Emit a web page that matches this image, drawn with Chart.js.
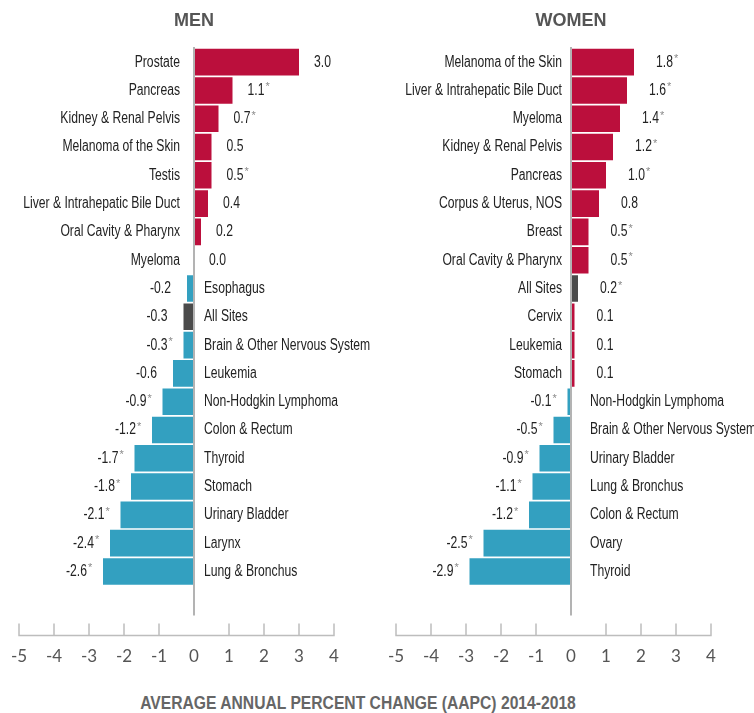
<!DOCTYPE html>
<html>
<head>
<meta charset="utf-8">
<script src="https://cdn.jsdelivr.net/npm/chart.js@4"></script>
<style>
  body { margin: 0; background: #fff; }
  #wrap { position: relative; width: 754px; height: 713px; overflow: hidden; }
  #menChart { position: absolute; left: 0; top: 0; }
  #womenChart { position: absolute; left: 377px; top: 0; }
  #xTitle {
    position: absolute; left: 0; width: 716px; top: 693px;
    text-align: center; color: #666; line-height: 20px;
    font: bold 18px "Liberation Sans", Arial, sans-serif;
    transform: scaleX(0.87); transform-origin: 358px 0;
  }
</style>
</head>
<body>
<div id="wrap">
  <canvas id="menChart" width="377" height="690"></canvas>
  <canvas id="womenChart" width="377" height="690"></canvas>
  <div id="xTitle">AVERAGE ANNUAL PERCENT CHANGE (AAPC) 2014-2018</div>
</div>
<script>
// men
const menLabels = ['Prostate', 'Pancreas', 'Kidney & Renal Pelvis', 'Melanoma of the Skin', 'Testis',
  'Liver & Intrahepatic Bile Duct', 'Oral Cavity & Pharynx', 'Myeloma', 'Esophagus', 'All Sites',
  'Brain & Other Nervous System', 'Leukemia', 'Non-Hodgkin Lymphoma', 'Colon & Rectum', 'Thyroid',
  'Stomach', 'Urinary Bladder', 'Larynx', 'Lung & Bronchus'];
const menValues = [3.0, 1.1, 0.7, 0.5, 0.5, 0.4, 0.2, 0.0, -0.2, -0.3, -0.3, -0.6, -0.9, -1.2, -1.7, -1.8, -2.1, -2.4, -2.6];
const menStars = [false, true, true, false, true, false, false, false, false, false, true, false, true, true, true, true, true, true, true];

// women
const womenLabels = ['Melanoma of the Skin', 'Liver & Intrahepatic Bile Duct', 'Myeloma', 'Kidney & Renal Pelvis',
  'Pancreas', 'Corpus & Uterus, NOS', 'Breast', 'Oral Cavity & Pharynx', 'All Sites', 'Cervix', 'Leukemia',
  'Stomach', 'Non-Hodgkin Lymphoma', 'Brain & Other Nervous System', 'Urinary Bladder', 'Lung & Bronchus',
  'Colon & Rectum', 'Ovary', 'Thyroid'];
const womenValues = [1.8, 1.6, 1.4, 1.2, 1.0, 0.8, 0.5, 0.5, 0.2, 0.1, 0.1, 0.1, -0.1, -0.5, -0.9, -1.1, -1.2, -2.5, -2.9];
const womenStars = [true, true, true, true, true, false, true, true, true, false, false, false, true, true, true, true, true, true, true];

const xMin = -5;
const xMax = 4;

const RED = '#bb0f3c';
const BLUE = '#33a0c0';
const GREY = '#4b4b4b';
const LABEL_FONT = '16px "Liberation Sans", Arial, sans-serif';
const STAR_FONT = '11px "Liberation Sans", Arial, sans-serif';
const SX = 0.76; // squeeze text to look like the condensed face

function barColors(labels, values) {
  return labels.map(function(l, i) {
    if (l === 'All Sites') return GREY;
    return values[i] >= 0 ? RED : BLUE;
  });
}

// draws horizontally condensed text, returns drawn width
function narrowText(ctx, text, x, y, align) {
  const w = ctx.measureText(text).width * SX;
  const left = align === 'right' ? x - w : x;
  ctx.save();
  ctx.translate(left, y);
  ctx.scale(SX, 1);
  ctx.textAlign = 'left';
  ctx.fillText(text, 0, 0);
  ctx.restore();
  return w;
}

// number + small grey asterisk
function drawValue(ctx, v, star, x, y, align) {
  const txt = v.toFixed(1);
  ctx.font = LABEL_FONT;
  ctx.fillStyle = '#222';
  const w = ctx.measureText(txt).width * SX;
  const left = align === 'left' ? x : x - w;
  narrowText(ctx, txt, left, y, 'left');
  if (star) {
    ctx.font = STAR_FONT;
    ctx.fillStyle = '#8a8a8a';
    ctx.textAlign = 'left';
    ctx.fillText('*', left + w + 1, y - 3);
  }
}

const labelPlugin = {
  id: 'aapcLabels',
  afterDatasetsDraw(chart, args, opts) {
    const ctx = chart.ctx;
    const x = chart.scales.x;
    const area = chart.chartArea;
    const zero = x.getPixelForValue(0);
    const ds = chart.data.datasets[0];
    const meta = chart.getDatasetMeta(0);
    ctx.save();

    // zero line
    ctx.strokeStyle = '#b3b3b3';
    ctx.lineWidth = 2;
    ctx.beginPath();
    ctx.moveTo(zero, area.top - 1);
    ctx.lineTo(zero, area.bottom + 30);
    ctx.stroke();

    // bottom axis with upward ticks
    const axisY = area.bottom + 50;
    ctx.strokeStyle = '#bdbdbd';
    ctx.lineWidth = 1.5;
    ctx.beginPath();
    ctx.moveTo(x.getPixelForValue(xMin), axisY);
    ctx.lineTo(x.getPixelForValue(xMax), axisY);
    x.ticks.forEach(function(t) {
      if (t.value === 0) return;
      const px = x.getPixelForValue(t.value);
      ctx.moveTo(px, axisY + 0.75);
      ctx.lineTo(px, axisY - 12);
    });
    ctx.stroke();

    // category + value labels
    ctx.textBaseline = 'middle';
    meta.data.forEach(function(bar, i) {
      const v = ds.data[i];
      const y = bar.y;
      ctx.font = LABEL_FONT;
      ctx.fillStyle = '#222';
      if (v >= 0) {
        narrowText(ctx, chart.data.labels[i], zero - opts.catPos, y, 'right');
        drawValue(ctx, v, ds.stars[i], bar.x + opts.valPos, y, 'left');
      } else {
        ctx.font = LABEL_FONT;
        ctx.fillStyle = '#222';
        narrowText(ctx, chart.data.labels[i], zero + opts.catNeg, y, 'left');
        drawValue(ctx, v, ds.stars[i], bar.x - opts.valNeg, y, 'right');
      }
    });

    // panel title
    ctx.font = 'bold 18px "Liberation Sans", Arial, sans-serif';
    ctx.fillStyle = '#555';
    ctx.textAlign = 'center';
    ctx.fillText(opts.title, zero, 21);
    ctx.restore();
  }
};

function makeChart(id, title, labels, values, stars, gaps) {
  const ctx = document.getElementById(id).getContext('2d');
  return new Chart(ctx, {
    type: 'bar',
    data: {
      labels: labels,
      datasets: [{
        data: values,
        stars: stars,
        backgroundColor: barColors(labels, values),
        borderWidth: 0,
        barPercentage: 0.94,
        categoryPercentage: 1.0
      }]
    },
    options: {
      indexAxis: 'y',
      responsive: false,
      animation: false,
      devicePixelRatio: 1,
      layout: { padding: { top: 48, left: 19, right: 43, bottom: 20 } },
      scales: {
        x: {
          min: xMin,
          max: xMax,
          grid: { display: true, drawOnChartArea: false, drawTicks: true, tickLength: 58, color: 'rgba(0,0,0,0)' },
          border: { display: false },
          ticks: {
            stepSize: 1,
            padding: 3,
            color: '#555',
            font: { family: 'Lato, "Open Sans", sans-serif', size: 17 }
          }
        },
        y: { display: false }
      },
      plugins: {
        legend: { display: false },
        tooltip: { enabled: false },
        aapcLabels: Object.assign({ title: title }, gaps)
      }
    },
    plugins: [labelPlugin]
  });
}

makeChart('menChart', 'MEN', menLabels, menValues, menStars, { catPos: 14, catNeg: 10, valPos: 15, valNeg: 16 });
makeChart('womenChart', 'WOMEN', womenLabels, womenValues, womenStars, { catPos: 9, catNeg: 19, valPos: 22, valNeg: 16 });
</script>
</body>
</html>
